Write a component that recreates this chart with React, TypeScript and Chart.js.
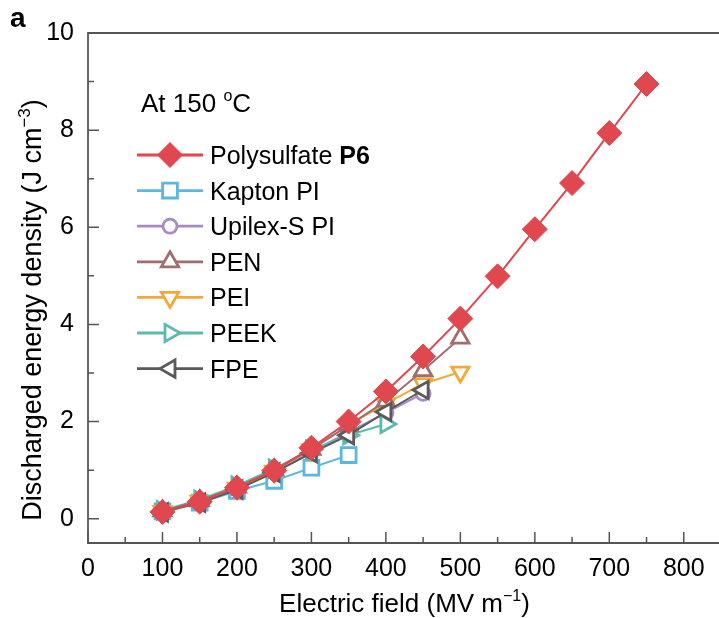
import { useEffect, useRef } from 'react';
import { Chart, registerables } from 'chart.js';
import { drawPoint } from 'chart.js/helpers';

Chart.register(...registerables);

// ---------- data ----------
const fieldP6 = [100, 150, 200, 250, 300, 350, 400, 450, 500, 550, 600, 650, 700, 750];
const energyP6 = [0.14, 0.35, 0.64, 0.99, 1.46, 2.0, 2.62, 3.34, 4.12, 4.99, 5.96, 6.91, 7.94, 8.95];

const fieldKapton = [100, 150, 200, 250, 300, 350];
const energyKapton = [0.15, 0.33, 0.57, 0.78, 1.05, 1.31];

const fieldUpilex = [100, 150, 200, 250, 300, 350, 400, 450];
const energyUpilex = [0.16, 0.36, 0.62, 0.97, 1.38, 1.78, 2.18, 2.58];

const fieldPEN = [100, 150, 200, 250, 300, 350, 400, 450, 500];
const energyPEN = [0.16, 0.37, 0.65, 1.0, 1.43, 1.92, 2.42, 3.05, 3.72];

const fieldPEI = [100, 150, 200, 250, 300, 350, 400, 450, 500];
const energyPEI = [0.15, 0.36, 0.63, 0.98, 1.42, 1.93, 2.37, 2.78, 3.02];

const fieldPEEK = [100, 150, 200, 250, 300, 350, 400];
const energyPEEK = [0.17, 0.39, 0.68, 1.03, 1.42, 1.72, 1.95];

const fieldFPE = [100, 150, 200, 250, 300, 350, 400, 450];
const energyFPE = [0.13, 0.33, 0.6, 0.95, 1.35, 1.72, 2.2, 2.65];

const xMajorTicks = [0, 100, 200, 300, 400, 500, 600, 700, 800];
const xMinorTicks = [50, 150, 250, 350, 450, 550, 650, 750, 850];
const yMajorTicks = [0, 2, 4, 6, 8, 10];
const yMinorTicks = [1, 3, 5, 7, 9];

// ---------- styles ----------
const FAMILY = '"Liberation Sans", Arial, Helvetica, sans-serif';
const AXIS_COLOR = '#555555';

type Part = { text: string; sup?: boolean; bold?: boolean };

// z: lower number = drawn later (on top)
const series = [
  { label: [{ text: 'Polysulfate ' }, { text: 'P6', bold: true }] as Part[], xs: fieldP6, ys: energyP6, color: '#e0474f', fill: '#e0474f', style: 'rectRot', radius: 12.5, rotation: 0, pbw: 1, z: 0 },
  { label: [{ text: 'Kapton PI' }] as Part[], xs: fieldKapton, ys: energyKapton, color: '#5cb6e0', fill: '#ffffff', style: 'rect', radius: 10.5, rotation: 0, pbw: 2.8, z: 5 },
  { label: [{ text: 'Upilex-S PI' }] as Part[], xs: fieldUpilex, ys: energyUpilex, color: '#a98bc4', fill: '#ffffff', style: 'circle', radius: 7, rotation: 0, pbw: 2.8, z: 6 },
  { label: [{ text: 'PEN' }] as Part[], xs: fieldPEN, ys: energyPEN, color: '#a06e6e', fill: '#ffffff', style: 'triangle', radius: 10, rotation: 0, pbw: 2.8, z: 2 },
  { label: [{ text: 'PEI' }] as Part[], xs: fieldPEI, ys: energyPEI, color: '#f2a93b', fill: '#ffffff', style: 'triangle', radius: 10, rotation: 180, pbw: 2.8, z: 4 },
  { label: [{ text: 'PEEK' }] as Part[], xs: fieldPEEK, ys: energyPEEK, color: '#5dbaaa', fill: '#ffffff', style: 'triangle', radius: 10, rotation: 90, pbw: 2.8, z: 3 },
  { label: [{ text: 'FPE' }] as Part[], xs: fieldFPE, ys: energyFPE, color: '#5a5a5a', fill: '#ffffff', style: 'triangle', radius: 10, rotation: -90, pbw: 2.8, z: 1 },
];

function drawRich(ctx: CanvasRenderingContext2D, parts: Part[], x: number, y: number, size: number, align: 'left' | 'center') {
  const fontFor = (p: Part) => `${p.bold ? 'bold ' : ''}${p.sup ? Math.round(size * 0.62) : size}px ${FAMILY}`;
  let total = 0;
  for (const p of parts) {
    ctx.font = fontFor(p);
    total += ctx.measureText(p.text).width;
  }
  let cx = align === 'center' ? x - total / 2 : x;
  ctx.textAlign = 'left';
  ctx.textBaseline = 'alphabetic';
  for (const p of parts) {
    ctx.font = fontFor(p);
    ctx.fillText(p.text, cx, p.sup ? y - size * 0.42 : y);
    cx += ctx.measureText(p.text).width;
  }
}

const decorPlugin = {
  id: 'decor',
  beforeDatasetsDraw(chart: any) {
    const ctx: CanvasRenderingContext2D = chart.ctx;
    const { left, right, top, bottom } = chart.chartArea;
    const xs = chart.scales.x;
    const ys = chart.scales.y;
    ctx.save();
    ctx.strokeStyle = AXIS_COLOR;
    ctx.lineWidth = 1.8;
    ctx.beginPath();
    ctx.moveTo(left, top);
    ctx.lineTo(right, top);
    ctx.lineTo(right, bottom);
    ctx.lineTo(left, bottom);
    ctx.closePath();
    ctx.stroke();
    ctx.lineWidth = 1.5;
    ctx.beginPath();
    for (const v of xMajorTicks) {
      const px = xs.getPixelForValue(v);
      ctx.moveTo(px, bottom);
      ctx.lineTo(px, bottom - 11);
    }
    for (const v of xMinorTicks) {
      const px = xs.getPixelForValue(v);
      ctx.moveTo(px, bottom);
      ctx.lineTo(px, bottom - 6);
    }
    for (const v of yMajorTicks) {
      const py = ys.getPixelForValue(v);
      ctx.moveTo(left, py);
      ctx.lineTo(left + 11, py);
    }
    for (const v of yMinorTicks) {
      const py = ys.getPixelForValue(v);
      ctx.moveTo(left, py);
      ctx.lineTo(left + 6, py);
    }
    ctx.stroke();
    ctx.restore();
  },
  afterDraw(chart: any) {
    const ctx: CanvasRenderingContext2D = chart.ctx;
    ctx.save();
    ctx.fillStyle = '#000';
    // panel letter
    drawRich(ctx, [{ text: 'a', bold: true }], 10, 27, 28, 'left');
    // condition text
    drawRich(ctx, [{ text: 'At 150 ' }, { text: 'o', sup: true }, { text: 'C' }], 141, 112, 26, 'left');
    // legend
    series.forEach((s, i) => {
      const y = 155 + i * 35.6;
      ctx.save();
      ctx.strokeStyle = s.color;
      ctx.lineWidth = 2.8;
      ctx.beginPath();
      ctx.moveTo(137, y);
      ctx.lineTo(203, y);
      ctx.stroke();
      ctx.fillStyle = s.fill;
      ctx.strokeStyle = s.color;
      ctx.lineWidth = s.pbw;
      drawPoint(ctx, { pointStyle: s.style as any, radius: s.radius, rotation: s.rotation, borderWidth: s.pbw }, 170, y);
      ctx.restore();
      ctx.fillStyle = '#000';
      drawRich(ctx, s.label, 210, y + 9, 25, 'left');
    });
    // x title
    const { left, right } = chart.chartArea;
    drawRich(ctx, [{ text: 'Electric field (MV m' }, { text: '\u22121', sup: true }, { text: ')' }], (left + right) / 2, 612, 26, 'center');
    // y title
    ctx.save();
    ctx.translate(41, 310);
    ctx.rotate(-Math.PI / 2);
    drawRich(ctx, [{ text: 'Discharged energy density (J cm' }, { text: '\u22123', sup: true }, { text: ')' }], 0, 0, 27, 'center');
    ctx.restore();
    ctx.restore();
  },
};

export default function App() {
  const ref = useRef<HTMLCanvasElement | null>(null);
  useEffect(() => {
    document.body.style.margin = '0';
    const canvas = ref.current!;
    const datasets = series.map((s) => ({
      label: s.label.map((p) => p.text).join(''),
      data: s.xs.map((x, j) => ({ x, y: s.ys[j] })),
      borderColor: s.color,
      backgroundColor: s.fill,
      borderWidth: 2,
      pointStyle: s.style as any,
      pointRadius: s.radius,
      pointRotation: s.rotation,
      pointBorderWidth: s.pbw,
      pointBorderColor: s.color,
      pointBackgroundColor: s.fill,
      tension: 0,
      fill: false,
      clip: false,
      order: s.z,
    }));
    const tickFont = { family: FAMILY, size: 25 };
    const chart = new Chart(canvas, {
      type: 'line',
      data: { datasets },
      options: {
        responsive: false,
        animation: false,
        devicePixelRatio: 1,
        layout: { autoPadding: false, padding: { top: 33, right: 3, left: 0, bottom: 0 } },
        plugins: { legend: { display: false }, tooltip: { enabled: false } },
        scales: {
          x: {
            type: 'linear',
            min: 0,
            max: 850,
            grid: { display: false, drawTicks: false },
            border: { display: false },
            ticks: { font: tickFont, color: '#000', padding: 11, maxRotation: 0, autoSkip: false },
            afterBuildTicks: (s: any) => {
              s.ticks = xMajorTicks.map((v) => ({ value: v }));
            },
            afterFit: (s: any) => {
              s.height = 75;
              s.paddingLeft = 0;
              s.paddingRight = 0;
            },
          },
          y: {
            type: 'linear',
            min: -0.5,
            max: 10,
            grid: { display: false, drawTicks: false },
            border: { display: false },
            ticks: { font: tickFont, color: '#000', padding: 14, autoSkip: false },
            afterBuildTicks: (s: any) => {
              s.ticks = yMajorTicks.map((v) => ({ value: v }));
            },
            afterFit: (s: any) => {
              s.width = 88;
              s.paddingTop = 0;
              s.paddingBottom = 0;
            },
          },
        },
      },
      plugins: [decorPlugin],
    });
    return () => chart.destroy();
  }, []);
  return (
    <div style={{ width: 719, height: 618, overflow: 'hidden', position: 'relative', background: '#fff' }}>
      <canvas ref={ref} width={724} height={618} style={{ display: 'block', width: 724, height: 618 }} />
    </div>
  );
}
